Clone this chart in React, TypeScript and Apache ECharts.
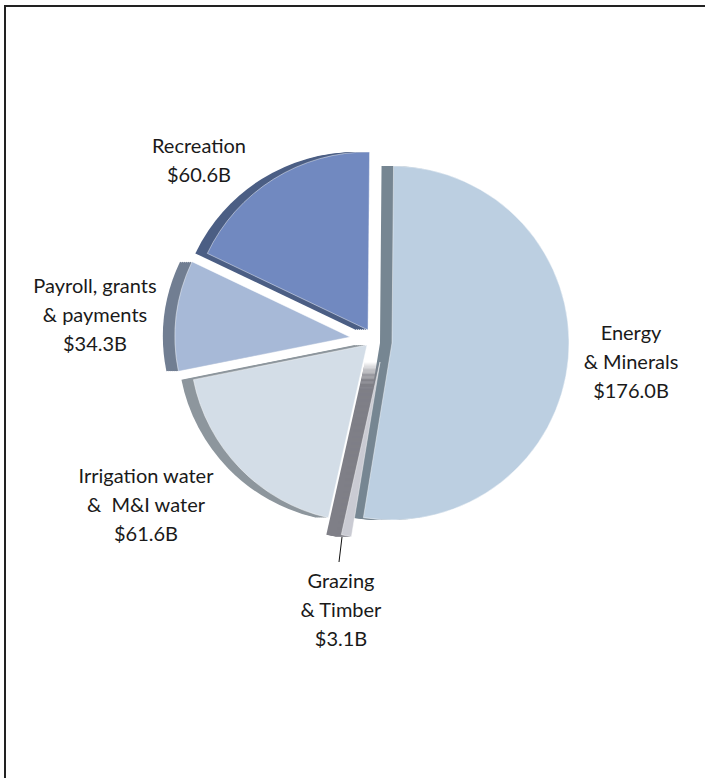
import React, { useEffect, useRef } from "react";
import * as echarts from "echarts";

// ---- Data ----
const categories = ["Energy\n& Minerals", "Grazing\n& Timber", "Irrigation water\n&  M&I water", "Payroll, grants\n& payments", "Recreation"];
const values = [176.0, 3.1, 61.6, 34.3, 60.6];

// ---- Styles / layout ----
const faceColors = ["#bccfe1", "#cacbd3", "#d3dde7", "#a7b9d7", "#7189c0"];
const sideColors = ["#768692", "#7f7f87", "#8d969d", "#717e92", "#4b5e84"];
const sliceCenters = [
  [392, 343],
  [380, 362],
  [367, 345],
  [350, 337],
  [368, 330],
];
const sliceRadius = [177, 177, 177, 175, 178];
const depthShift = [12, 15, 12, 12, 12];
const depthStep = [2, 1, 2, 2, 2];
const sideZ = [1, 3, 1, 1, 1];
const faceZ = [2, 4, 2, 2, 2];
const labelPos = [
  [631, 361],
  [341, 609],
  [146, 504],
  [95, 314],
  [199, 159],
];

function sliceSeries(i: number, cx: number, cy: number, r: number, color: string, z: number, edge: boolean) {
  return {
    type: "pie",
    silent: true,
    z,
    startAngle: 89.5,
    clockwise: true,
    center: [cx, cy],
    radius: [0, r],
    label: { show: false },
    labelLine: { show: false },
    emphasis: { disabled: true },
    data: categories.map((n, j) => ({
      name: n,
      value: values[j],
      itemStyle:
        j === i
          ? { color, borderWidth: edge ? 1 : 0, borderColor: "rgba(255,255,255,0.45)" }
          : { color: "rgba(0,0,0,0)", borderWidth: 0 },
    })),
  };
}

export default function App() {
  const ref = useRef<HTMLDivElement>(null);
  useEffect(() => {
    if (!ref.current) return;
    const chart = echarts.init(ref.current, undefined, { renderer: "svg" });
    const series: any[] = [];
    // extruded side: stacked copies shifted left
    categories.forEach((_, i) => {
      const [cx, cy] = sliceCenters[i];
      for (let s = depthStep[i]; s < depthShift[i]; s += depthStep[i]) {
        series.push(sliceSeries(i, cx - s, cy, sliceRadius[i], sideColors[i], sideZ[i], false));
      }
      series.push(sliceSeries(i, cx - depthShift[i], cy, sliceRadius[i], sideColors[i], sideZ[i], false));
    });
    categories.forEach((_, i) => {
      const [cx, cy] = sliceCenters[i];
      series.push(sliceSeries(i, cx, cy, sliceRadius[i], faceColors[i], faceZ[i], true));
    });
    const texts = categories.map((n, i) => ({
      type: "text",
      x: labelPos[i][0],
      y: labelPos[i][1],
      z: 10,
      style: {
        text: `${n}\n$${values[i].toFixed(1)}B`,
        align: "center",
        verticalAlign: "middle",
        font: '20px Lato, "Open Sans", sans-serif',
        lineHeight: 29,
        fill: "#1a1a1a",
      },
    }));
    chart.setOption({
      animation: false,
      backgroundColor: "#ffffff",
      graphic: [
        {
          type: "rect",
          z: 20,
          shape: { x: 5, y: 6, width: 760, height: 820 },
          style: { fill: "none", stroke: "#222222", lineWidth: 2 },
        },
        {
          type: "line",
          z: 10,
          shape: { x1: 342, y1: 537, x2: 339, y2: 562 },
          style: { stroke: "#111111", lineWidth: 1 },
        },
        ...texts,
      ],
      series,
    });
    return () => chart.dispose();
  }, []);
  return (
    <div
      ref={ref}
      style={{ position: "absolute", left: 0, top: 0, width: 705, height: 778 }}
    />
  );
}
